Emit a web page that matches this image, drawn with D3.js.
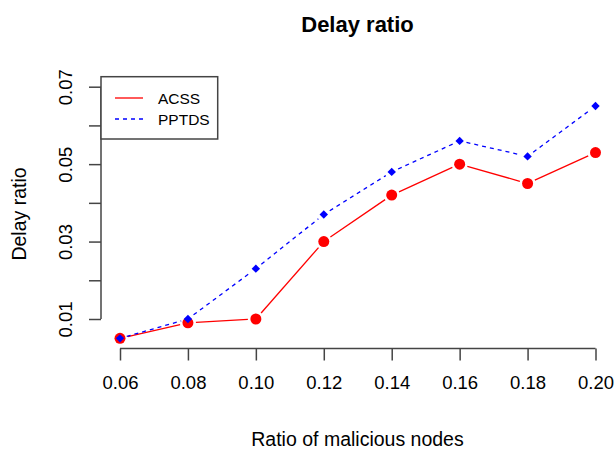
<!DOCTYPE html>
<html><head><meta charset="utf-8">
<script src="https://cdn.jsdelivr.net/npm/d3@7"></script>
<style>body{margin:0;background:#fff}svg{display:block}text{font-family:"Liberation Sans",Arial,sans-serif;fill:#000}</style>
</head><body><svg id="c" width="616" height="450"></svg>
<script>
const ratios = [0.06, 0.08, 0.10, 0.12, 0.14, 0.16, 0.18, 0.20];
const acss   = [0.005, 0.009, 0.010, 0.030, 0.042, 0.050, 0.045, 0.053];
const pptds  = [0.005, 0.010, 0.023, 0.037, 0.048, 0.056, 0.052, 0.065];
const xTicks = [0.06, 0.08, 0.10, 0.12, 0.14, 0.16, 0.18, 0.20];
const yTicks = [0.01, 0.02, 0.03, 0.04, 0.05, 0.06, 0.07];
const yLabels = ["0.01", "", "0.03", "", "0.05", "", "0.07"];
const seriesNames = ["ACSS", "PPTDS"];

const svg = d3.select("#c");
const x = d3.scaleLinear().domain([0.06, 0.20]).range([120, 595.5]);
const y = d3.scaleLinear().domain([0.01, 0.07]).range([319, 86.7]);
const axisCol = "#444";

// title
svg.append("text").attr("x", 357.5).attr("y", 32).attr("text-anchor", "middle")
  .style("font-weight", "bold").style("font-size", "22px").text("Delay ratio");

// x axis
const gx = svg.append("g").attr("transform", "translate(0,348.5)")
  .call(d3.axisBottom(x).tickValues(xTicks).tickSize(12).tickSizeOuter(0).tickFormat(d3.format(".2f")));
gx.select(".domain").attr("stroke", axisCol).attr("stroke-width", 1.5).attr("d", `M${x(0.06)},0H${x(0.20)}`);
gx.selectAll(".tick line").attr("stroke", axisCol).attr("stroke-width", 1.5);
gx.selectAll(".tick text").attr("y", 27).attr("dy", "0.71em").style("font-size", "18.5px")
  .style("font-family", "Liberation Sans, Arial, sans-serif").attr("fill", "#000");

// y axis
const gy = svg.append("g").attr("transform", "translate(101,0)")
  .call(d3.axisLeft(y).tickValues(yTicks).tickSize(12).tickSizeOuter(0).tickFormat((d, i) => yLabels[i]));
gy.select(".domain").attr("stroke", axisCol).attr("stroke-width", 1.5).attr("d", `M0,${y(0.01)}V${y(0.07)}`);
gy.selectAll(".tick line").attr("stroke", axisCol).attr("stroke-width", 1.5);
gy.selectAll(".tick text").attr("x", 0).attr("y", 0).attr("dy", null)
  .attr("transform", "translate(-29,0) rotate(-90)").attr("text-anchor", "middle")
  .style("font-size", "18.5px").style("font-family", "Liberation Sans, Arial, sans-serif").attr("fill", "#000");

// axis titles
svg.append("text").attr("x", 357.5).attr("y", 446).attr("text-anchor", "middle")
  .style("font-size", "19.5px").text("Ratio of malicious nodes");
svg.append("text").attr("transform", "translate(26,214) rotate(-90)").attr("text-anchor", "middle")
  .style("font-size", "19.5px").text("Delay ratio");

// lines with gaps (type "b")
function gapSegs(vals, gap) {
  const segs = [];
  for (let i = 0; i < vals.length - 1; i++) {
    const x1 = x(ratios[i]), y1 = y(vals[i]), x2 = x(ratios[i+1]), y2 = y(vals[i+1]);
    const dx = x2 - x1, dy = y2 - y1, L = Math.hypot(dx, dy);
    if (L <= 2 * gap) continue;
    const ux = dx / L, uy = dy / L;
    segs.push([x1 + ux * gap, y1 + uy * gap, x2 - ux * gap, y2 - uy * gap]);
  }
  return segs;
}
svg.append("g").selectAll("line").data(gapSegs(acss, 8)).join("line")
  .attr("x1", d => d[0]).attr("y1", d => d[1]).attr("x2", d => d[2]).attr("y2", d => d[3])
  .attr("stroke", "#ff0000").attr("stroke-width", 1.3);
svg.append("g").selectAll("line").data(gapSegs(pptds, 7)).join("line")
  .attr("x1", d => d[0]).attr("y1", d => d[1]).attr("x2", d => d[2]).attr("y2", d => d[3])
  .attr("stroke", "#0000ff").attr("stroke-width", 1.3).attr("stroke-dasharray", "4,4");

// points
svg.append("g").selectAll("circle").data(acss).join("circle")
  .attr("cx", (d, i) => x(ratios[i])).attr("cy", d => y(d)).attr("r", 5.5).attr("fill", "#ff0000");
svg.append("g").selectAll("path").data(pptds).join("path")
  .attr("transform", (d, i) => `translate(${x(ratios[i])},${y(d)})`)
  .attr("d", "M0,-4.2L4.2,0L0,4.2L-4.2,0Z").attr("fill", "#0000ff");

// legend
const lg = svg.append("g");
lg.append("rect").attr("x", 101).attr("y", 76.7).attr("width", 116.7).attr("height", 62.3)
  .attr("fill", "#fff").attr("stroke", axisCol).attr("stroke-width", 1.5);
const ly = [98, 119];
const lcol = ["#ff0000", "#0000ff"];
seriesNames.forEach((n, i) => {
  lg.append("line").attr("x1", 115).attr("x2", 143).attr("y1", ly[i]).attr("y2", ly[i])
    .attr("stroke", lcol[i]).attr("stroke-width", 1.3).attr("stroke-dasharray", i ? "4,4" : null);
  lg.append("text").attr("x", 158).attr("y", ly[i]).attr("dy", "0.36em").style("font-size", "15.5px").text(n);
});
</script></body></html>
